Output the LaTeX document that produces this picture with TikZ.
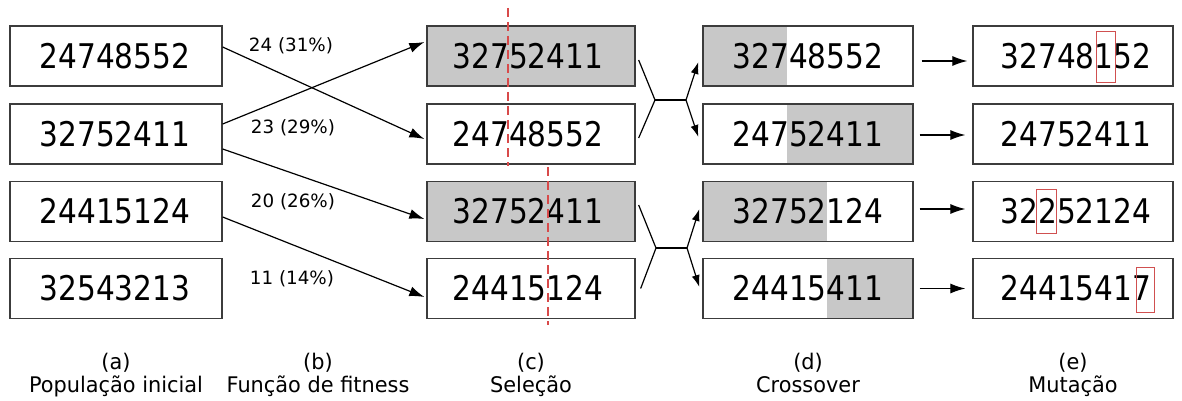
\documentclass[tikz,border=0pt]{standalone}
\usepackage{fontspec}
\usetikzlibrary{arrows.meta,calc,backgrounds}
\newfontfamily\numfont[FakeStretch=0.87]{DejaVu Sans}
\newfontfamily\capfont[FakeStretch=0.97]{DejaVu Sans}
\newfontfamily\wfont{DejaVu Sans}
\definecolor{boxline}{HTML}{3C3C3C}
\definecolor{cellgray}{HTML}{C8C8C8}
\definecolor{cutred}{HTML}{D84A4A}
\definecolor{mutred}{HTML}{D05050}
\tikzset{
  chrom/.style={draw=boxline, line width=1.3pt, minimum height=60pt, inner sep=0pt},
  cola/.style={chrom, minimum width=212pt},
  colc/.style={chrom, minimum width=208pt},
  cold/.style={chrom, minimum width=210pt},
  cole/.style={chrom, minimum width=200pt},
  digits/.style={font=\numfont\fontsize{34}{40}\selectfont, inner sep=0pt, text height=24.8pt, text depth=0pt, anchor=center},
  weight/.style={font=\wfont\fontsize{18.3}{22}\selectfont, inner sep=0pt, text height=13.3pt, text depth=0pt, anchor=center},
  caption/.style={font=\capfont\fontsize{21.5}{25}\selectfont, inner sep=0pt, anchor=base},
  link/.style={line width=1.2pt, -{Latex[length=15pt,width=10pt]}},
  cross/.style={line width=1.2pt},
  crossarrow/.style={line width=1.2pt, -{Latex[length=12pt,width=8pt]}},
  mutarrow/.style={line width=1.2pt, -{Latex[length=15pt,width=10pt]}},
  cutline/.style={draw=cutred, line width=1.2pt, dash pattern=on 9pt off 5pt},
  mutbox/.style={draw=mutred, line width=1pt},
}
\begin{document}
\begin{tikzpicture}[x=1pt,y=-1pt]
\useasboundingbox (0,0) rectangle (1182,401);
% boxes
\foreach \r/\y in {1/56,2/134,3/211.5,4/288.5}{
  \node[cola] (a\r) at (116,\y) {};
  \node[colc] (c\r) at (531,\y) {};
  \node[cold] (d\r) at (808,\y) {};
  \node[cole] (e\r) at (1073,\y) {};
}
% gray segments
\begin{scope}[on background layer]
  \fill[cellgray] (c1.north west) rectangle (c1.south east);
  \fill[cellgray] (c3.north west) rectangle (c3.south east);
  \fill[cellgray] (d1.north west) rectangle (787,86);
  \fill[cellgray] (787,104) rectangle (d2.south east);
  \fill[cellgray] (d3.north west) rectangle (827,241.5);
  \fill[cellgray] (827,258.5) rectangle (d4.south east);
\end{scope}
% texts
\node[digits] (ta1) at (115,56) {24748552};
\node[digits] (ta2) at (115,134) {32752411};
\node[digits] (ta3) at (115,211.5) {24415124};
\node[digits] (ta4) at (115,288.5) {32543213};
\node[digits] (tc1) at (528,56) {32752411};
\node[digits] (tc2) at (528,134) {24748552};
\node[digits] (tc3) at (528,211.5) {32752411};
\node[digits] (tc4) at (528,288.5) {24415124};
\node[digits] (td1) at (808,56) {32748552};
\node[digits] (td2) at (808,134) {24752411};
\node[digits] (td3) at (808,211.5) {32752124};
\node[digits] (td4) at (808,288.5) {24415411};
\node[digits] (te1) at (1076,56) {32748152};
\node[digits] (te2) at (1076,134) {24752411};
\node[digits] (te3) at (1076,211.5) {32252124};
\node[digits] (te4) at (1076,288.5) {24415417};
% cut lines
\draw[cutline] (508,8) -- (508,166);
\draw[cutline] (548,167) -- (548,325);
% mutation marks
\draw[mutbox] (1096,32) rectangle (1115,83);
\draw[mutbox] (1036,189) rectangle (1056,233);
\draw[mutbox] (1136,267) rectangle (1154,312);
% fitness weights
\node[weight] (w1) at (291,45) {24 (31\%)};
\node[weight] (w2) at (293,127) {23 (29\%)};
\node[weight] (w3) at (293,201) {20 (26\%)};
\node[weight] (w4) at (292,278) {11 (14\%)};
% selection arrows
\draw[link] ([yshift=9pt]a1.east) -- ([xshift=-2pt,yshift=-5pt]c2.west);
\draw[link] ([yshift=10pt]a2.east) -- ([xshift=-2pt,yshift=14pt]c1.west);
\draw[link] ([yshift=-15pt]a2.east) -- ([xshift=-2pt,yshift=-7.5pt]c3.west);
\draw[link] ([yshift=-5.5pt]a3.east) -- ([xshift=-2pt,yshift=-8.5pt]c4.west);
% crossover connectors
\coordinate (j1) at (655,100);
\coordinate (j2) at (686,100);
\coordinate (j3) at (656,248);
\coordinate (j4) at (687,248);
\draw[cross] ([xshift=3pt,yshift=-4pt]c1.east) -- (j1);
\draw[cross] ([xshift=3pt,yshift=-4pt]c2.east) -- (j1);
\draw[line width=2.6pt] (j1) -- (j2);
\draw[crossarrow] (j2) -- ([xshift=-4pt,yshift=-6pt]d1.west);
\draw[crossarrow] (j2) -- ([xshift=-4pt,yshift=-3pt]d2.west);
\draw[cross] ([xshift=3pt,yshift=6.5pt]c3.east) -- (j3);
\draw[cross] ([xshift=5pt]c4.east) -- (j3);
\draw[line width=2.6pt] (j3) -- (j4);
\draw[crossarrow] (j4) -- ([xshift=-3pt,yshift=2.5pt]d3.west);
\draw[crossarrow] (j4) -- ([xshift=-3pt,yshift=1.5pt]d4.west);
% mutation arrows
\draw[mutarrow] ([xshift=8pt,yshift=-5pt]d1.east) -- ([xshift=-5pt,yshift=-5pt]e1.west);
\draw[mutarrow] ([xshift=6pt,yshift=-1pt]d2.east) -- ([xshift=-7pt,yshift=-1pt]e2.west);
\draw[mutarrow] ([xshift=6pt,yshift=2.5pt]d3.east) -- ([xshift=-7pt,yshift=2.5pt]e3.west);
\draw[mutarrow] ([xshift=6pt]d4.east) -- ([xshift=-7pt]e4.west);
% captions
\node[caption] (ka) at (116,369) {(a)};
\node[caption] (kb) at (318,369) {(b)};
\node[caption] (kc) at (531,369) {(c)};
\node[caption] (kd) at (808,369) {(d)};
\node[caption] (ke) at (1073,369) {(e)};
\node[caption] (la) at (116,392) {População inicial};
\node[caption] (lb) at (318,392) {Função de fitness};
\node[caption] (lc) at (531,392) {Seleção};
\node[caption] (ld) at (808,392) {Crossover};
\node[caption] (le) at (1073,392) {Mutação};
\end{tikzpicture}
\end{document}
